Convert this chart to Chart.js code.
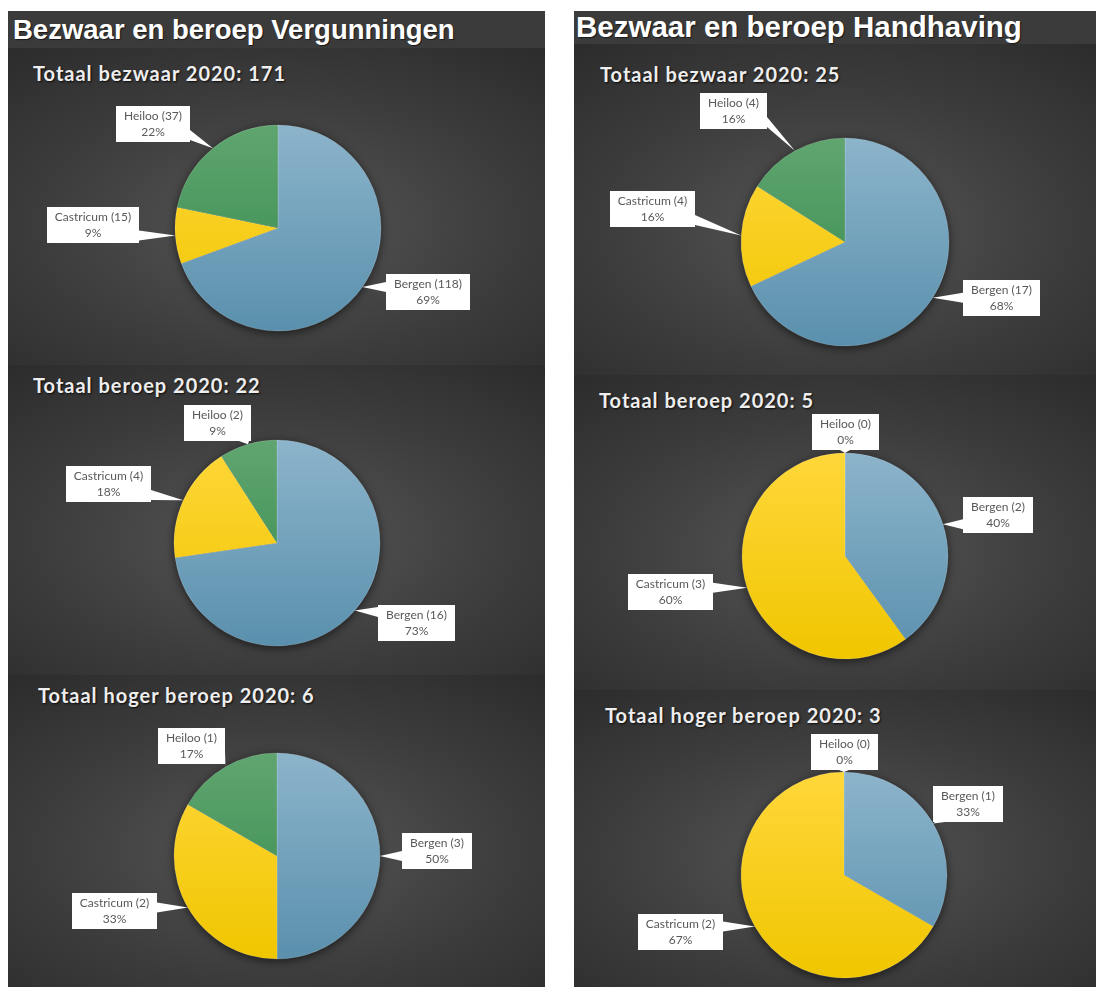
<!DOCTYPE html>
<html lang="nl">
<head>
<meta charset="utf-8">
<title>Bezwaar en beroep 2020</title>
<script src="https://cdn.jsdelivr.net/npm/chart.js@4.4.0/dist/chart.umd.min.js"></script>
<style>
    html, body {
        margin: 0;
        padding: 0;
        width: 1096px;
        height: 987px;
        overflow: hidden;
        background: #ffffff;
        position: relative;
        font-family: Lato, "Open Sans", sans-serif;
    }
    .panel {
        position: absolute;
        top: 11px;
        height: 976px;
        background: #2c2c2c;
        overflow: hidden;
    }
    #left { left: 8px; width: 537px; }
    #right { left: 574px; width: 522px; }
    .head {
        position: absolute;
        left: 0;
        right: 0;
        top: 0;
        background: #3b3b3b;
        color: #ffffff;
        font-family: "Liberation Sans", Arial, sans-serif;
        font-weight: bold;
        line-height: 28px;
        white-space: nowrap;
        text-shadow: 1px 1px 1px rgba(0, 0, 0, 0.6);
    }
    .sec {
        position: absolute;
        left: 0;
        right: 0;
        background: radial-gradient(ellipse 78% 72% at 50% 56%, #565656 0%, #3d3d3d 55%, #2c2c2c 100%);
    }
    .sub {
        position: absolute;
        color: #eeeeee;
        font-weight: bold;
        font-size: 20px;
        line-height: 24px;
        letter-spacing: 1px;
        white-space: nowrap;
        text-shadow: 1px 1px 2px rgba(0, 0, 0, 0.8);
    }
    canvas.pie { position: absolute; }
</style>
</head>
<body>

<div class="panel" id="left">
    <div class="sec" style="top:37px;height:317px"></div>
    <div class="sec" style="top:354px;height:310px"></div>
    <div class="sec" style="top:664px;height:312px"></div>
    <div class="head" style="height:37px;padding:5px 0 0 5px;box-sizing:border-box;font-size:27.5px">Bezwaar en beroep Vergunningen</div>
</div>
<div class="panel" id="right">
    <div class="sec" style="top:33px;height:331px"></div>
    <div class="sec" style="top:364px;height:315px"></div>
    <div class="sec" style="top:679px;height:297px"></div>
    <div class="head" style="height:33px;padding:2px 0 0 2px;box-sizing:border-box;font-size:29.5px">Bezwaar en beroep Handhaving</div>
</div>

<div id="titles"></div>

<canvas class="pie" id="pie1"></canvas>
<canvas class="pie" id="pie2"></canvas>
<canvas class="pie" id="pie3"></canvas>
<canvas class="pie" id="pie4"></canvas>
<canvas class="pie" id="pie5"></canvas>
<canvas class="pie" id="pie6"></canvas>

<script>
// gegevens
const categories = ['Bergen', 'Castricum', 'Heiloo'];

const vergunningenBezwaar = [118, 15, 37];
const vergunningenBeroep = [16, 4, 2];
const vergunningenHogerBeroep = [3, 2, 1];

const handhavingBezwaar = [17, 4, 4];
const handhavingBeroep = [2, 3, 0];
const handhavingHogerBeroep = [1, 2, 0];

const chartTitles = [
    'Totaal bezwaar 2020: 171',
    'Totaal beroep 2020: 22',
    'Totaal hoger beroep 2020: 6',
    'Totaal bezwaar 2020: 25',
    'Totaal beroep 2020: 5',
    'Totaal hoger beroep 2020: 3'
];

// kleuren (boven -> onder verloop)
const palette = [
    ['#8cb4cb', '#5a90ad'],
    ['#ffd73a', '#f0c600'],
    ['#60a570', '#338a4c']
];

// opmaak: middelpunt, straal, titelpositie en verschuiving van de labels
const layout = [
    { id: 'pie1', values: vergunningenBezwaar, cx: 277.5, cy: 227.5, r: 103, tx: 33, ty: 61,
      offsets: [[66, 5], [-82, -11], [-60, -24]] },
    { id: 'pie2', values: vergunningenBeroep, cx: 277, cy: 542.5, r: 103, tx: 33, ty: 373,
      offsets: [[62, 13], [-75, -16], [-30, -21]] },
    { id: 'pie3', values: vergunningenHogerBeroep, cx: 277, cy: 855.5, r: 103, tx: 38, ty: 683,
      offsets: [[57, -5], [-73, 3], [-34, -21]] },
    { id: 'pie4', values: handhavingBezwaar, cx: 845, cy: 242, r: 104, tx: 600, ty: 62,
      offsets: [[69, 0], [-89, -26], [-61, -40]] },
    { id: 'pie5', values: handhavingBeroep, cx: 844.5, cy: 556, r: 103, tx: 599, ty: 388,
      offsets: [[55, -9], [-77, 4], [0, -21]] },
    { id: 'pie6', values: handhavingHogerBeroep, cx: 844, cy: 874.5, r: 103, tx: 605, ty: 703,
      offsets: [[35, -20], [-74, 5], [0, -20]] }
];

const CANVAS_W = 520;
const CANVAS_H = 330;

function sliceFill(context, r) {
    const chart = context.chart;
    const area = chart.chartArea;
    const colors = palette[context.dataIndex];
    if (!area) return colors[0];
    const cy = (area.top + area.bottom) / 2;
    const grad = chart.ctx.createLinearGradient(0, cy - r, 0, cy + r);
    grad.addColorStop(0, colors[0]);
    grad.addColorStop(1, colors[1]);
    return grad;
}

function clamp(v, lo, hi) {
    return Math.max(lo, Math.min(hi, v));
}

// labels met aanwijspunt (zoals in Excel)
const callouts = {
    id: 'callouts',
    beforeDatasetsDraw(chart) {
        const first = chart.getDatasetMeta(0).data[0];
        const p = first.getProps(['x', 'y', 'outerRadius'], true);
        const ctx = chart.ctx;
        ctx.save();
        ctx.shadowColor = 'rgba(0, 0, 0, 0.6)';
        ctx.shadowBlur = 10;
        ctx.shadowOffsetY = 2;
        ctx.fillStyle = '#3a3a3a';
        ctx.beginPath();
        ctx.arc(p.x, p.y, p.outerRadius, 0, Math.PI * 2);
        ctx.fill();
        ctx.restore();
    },
    afterDatasetsDraw(chart, args, opts) {
        const ctx = chart.ctx;
        const values = chart.data.datasets[0].data;
        const total = values.reduce((a, b) => a + b, 0);

        chart.getDatasetMeta(0).data.forEach((arc, i) => {
            const p = arc.getProps(['x', 'y', 'startAngle', 'endAngle', 'outerRadius'], true);
            const mid = (p.startAngle + p.endAngle) / 2;
            const ax = p.x + Math.cos(mid) * p.outerRadius;
            const ay = p.y + Math.sin(mid) * p.outerRadius;

            const line1 = chart.data.labels[i] + ' (' + values[i] + ')';
            const line2 = Math.round(values[i] / total * 100) + '%';

            ctx.save();
            ctx.font = '12px Lato';
            const tw = Math.max(ctx.measureText(line1).width, ctx.measureText(line2).width);
            const bw = Math.round(tw + 16);
            const bh = 36;
            const bcx = ax + opts.offsets[i][0];
            const bcy = ay + opts.offsets[i][1];
            const bx = Math.round(bcx - bw / 2);
            const by = Math.round(bcy - bh / 2);

            // basis van het aanwijspunt op de zijde die naar de taart wijst
            const half = 5;
            let base;
            if (ax > bx + bw) {
                const yy = clamp(ay, by + half + 2, by + bh - half - 2);
                base = [[bx + bw, yy - half], [bx + bw, yy + half]];
            } else if (ax < bx) {
                const yy = clamp(ay, by + half + 2, by + bh - half - 2);
                base = [[bx, yy - half], [bx, yy + half]];
            } else if (ay > by + bh) {
                const xx = clamp(ax, bx + half + 2, bx + bw - half - 2);
                base = [[xx - half, by + bh], [xx + half, by + bh]];
            } else {
                const xx = clamp(ax, bx + half + 2, bx + bw - half - 2);
                base = [[xx - half, by], [xx + half, by]];
            }

            ctx.fillStyle = '#ffffff';
            ctx.fillRect(bx, by, bw, bh);
            ctx.beginPath();
            ctx.moveTo(base[0][0], base[0][1]);
            ctx.lineTo(ax, ay);
            ctx.lineTo(base[1][0], base[1][1]);
            ctx.closePath();
            ctx.fill();

            ctx.fillStyle = '#595959';
            ctx.textAlign = 'center';
            ctx.textBaseline = 'middle';
            ctx.fillText(line1, bx + bw / 2, by + bh / 2 - 8);
            ctx.fillText(line2, bx + bw / 2, by + bh / 2 + 8);
            ctx.restore();
        });
    }
};

function buildTitles() {
    const holder = document.getElementById('titles');
    layout.forEach((cfg, i) => {
        const div = document.createElement('div');
        div.className = 'sub';
        div.style.left = cfg.tx + 'px';
        div.style.top = cfg.ty + 'px';
        div.textContent = chartTitles[i];
        holder.appendChild(div);
    });
}

function buildChart(cfg) {
    const canvas = document.getElementById(cfg.id);
    canvas.width = CANVAS_W;
    canvas.height = CANVAS_H;
    canvas.style.width = CANVAS_W + 'px';
    canvas.style.height = CANVAS_H + 'px';
    canvas.style.left = (cfg.cx - CANVAS_W / 2) + 'px';
    canvas.style.top = (cfg.cy - CANVAS_H / 2) + 'px';

    return new Chart(canvas, {
        type: 'pie',
        data: {
            labels: categories,
            datasets: [{
                data: cfg.values,
                backgroundColor: (c) => sliceFill(c, cfg.r),
                borderColor: 'rgba(255, 255, 255, 0.25)',
                borderWidth: 0.6,
                hoverOffset: 0
            }]
        },
        options: {
            responsive: false,
            animation: false,
            events: [],
            radius: cfg.r,
            layout: { padding: 0 },
            plugins: {
                legend: { display: false },
                tooltip: { enabled: false },
                title: { display: false },
                callouts: { offsets: cfg.offsets }
            }
        },
        plugins: [callouts]
    });
}

document.addEventListener('DOMContentLoaded', () => {
    buildTitles();
    window.pies = layout.map(buildChart);
});
</script>
</body>
</html>
